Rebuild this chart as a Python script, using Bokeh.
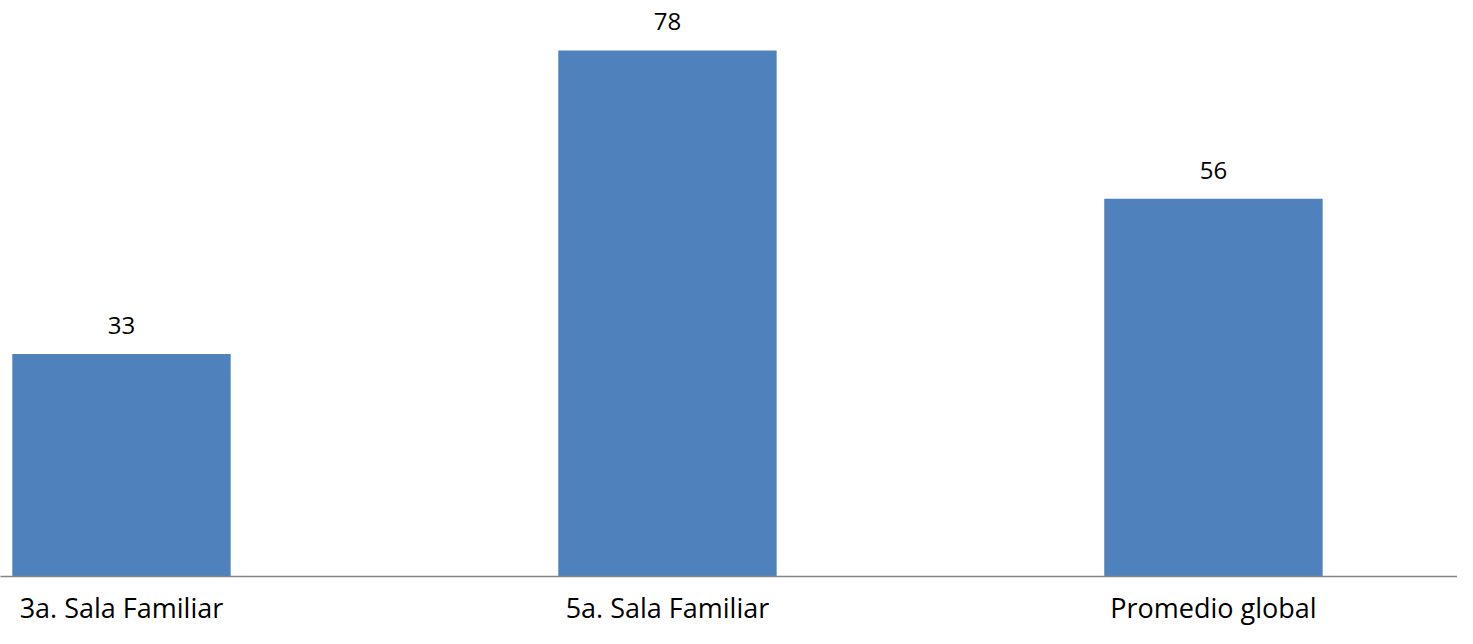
from bokeh.plotting import figure
from bokeh.models import FixedTicker, Range1d, ColumnDataSource
from bokeh.core.properties import value
from bokeh.embed import file_html
from bokeh.resources import INLINE

categories = ["3a. Sala Familiar", "5a. Sala Familiar", "Promedio global"]
values = [33, 78, 56]
labels = [str(v) for v in values]

xs = list(range(len(categories)))
src = ColumnDataSource(dict(x=xs, top=values, label=labels))

p = figure(width=1457, height=628, output_backend="svg", toolbar_location=None,
           x_range=Range1d(-0.2216, 2.447), y_range=Range1d(0, 85.4),
           min_border_left=0, min_border_right=0, min_border_top=0, min_border_bottom=40)
p.outline_line_color = None
p.background_fill_color = "white"
p.border_fill_color = "white"
p.xgrid.visible = False
p.ygrid.visible = False
p.yaxis.visible = False

p.vbar(x="x", top="top", bottom=0, width=0.4, source=src, fill_color="#4F81BD", line_color=None)
p.text(x="x", y="top", text="label", source=src, text_align="center", text_baseline="bottom",
       y_offset=-20, text_font=value("Open Sans"), text_font_size="24px", text_color="#000000")

ax = p.xaxis[0]
ax.ticker = FixedTicker(ticks=xs)
ax.major_label_overrides = {i: c for i, c in zip(xs, categories)}
ax.axis_line_color = "#868686"
ax.axis_line_width = 1.5
ax.major_tick_line_color = None
ax.minor_tick_line_color = None
ax.major_tick_out = 0
ax.major_tick_in = 0
ax.major_label_standoff = 12
ax.major_label_text_font = "Open Sans"
ax.major_label_text_font_size = "27px"
ax.major_label_text_color = "#000000"

open("out.html", "w").write(file_html(p, INLINE))
